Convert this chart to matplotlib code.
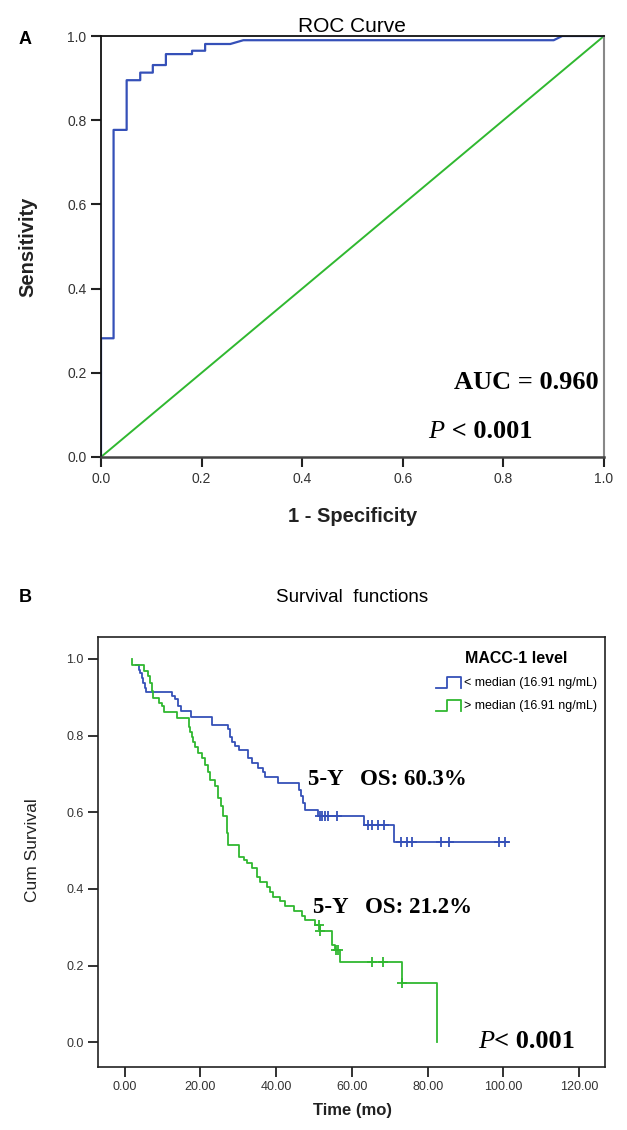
import numpy as np
import matplotlib
matplotlib.use('Agg')
import matplotlib.pyplot as plt
from matplotlib.lines import Line2D
from matplotlib.legend_handler import HandlerBase

plt.rcParams['font.family'] = ['Liberation Sans', 'DejaVu Sans']

# ROC curve (panel A)
roc_fpr = [0, 0, 0.025, 0.025, 0.051, 0.051, 0.078, 0.078, 0.103, 0.103, 0.129, 0.129,
           0.181, 0.181, 0.207, 0.207, 0.257, 0.283, 0.900, 0.917, 1.0]
roc_tpr = [0, 0.282, 0.282, 0.777, 0.777, 0.895, 0.895, 0.913, 0.913, 0.931, 0.931, 0.957,
           0.957, 0.965, 0.965, 0.981, 0.981, 0.990, 0.990, 1.0, 1.0]
ref_line = [0, 1]

# Kaplan-Meier (panel B): step start times and survival
low_t = [3.0, 3.9, 4.1, 4.6, 5.0, 5.4, 5.6, 12.5, 13.4, 14.0, 14.2, 14.9, 17.6, 23.2,
         27.4, 27.9, 28.3, 29.2, 30.1, 32.7, 33.6, 35.3, 36.6, 37.1, 40.6, 46.0, 46.6,
         47.0, 47.6, 51.0, 63.3, 71.0, 101.3]
low_s = [0.984, 0.971, 0.963, 0.950, 0.937, 0.924, 0.913, 0.902, 0.895, 0.884, 0.876,
         0.864, 0.847, 0.828, 0.817, 0.797, 0.784, 0.773, 0.763, 0.741, 0.728, 0.715,
         0.706, 0.693, 0.677, 0.659, 0.641, 0.623, 0.606, 0.590, 0.567, 0.521, 0.521]
low_cens = [51.5, 52.2, 52.9, 53.6, 56.0, 64.2, 65.3, 66.8, 68.6, 73.0, 74.5, 75.9,
            83.4, 85.5, 98.7, 100.4]

high_t = [1.9, 2.1, 5.2, 6.2, 6.8, 7.2, 7.6, 9.0, 9.8, 10.3, 13.9, 16.9, 17.3, 17.8,
          18.2, 18.6, 19.5, 20.4, 21.3, 22.1, 22.6, 23.9, 24.8, 25.4, 26.1, 27.0, 27.4,
          30.3, 31.4, 32.3, 33.6, 34.9, 35.8, 37.5, 38.4, 39.3, 41.1, 42.4, 44.6, 46.8,
          47.7, 50.3, 51.6, 54.8, 55.5, 56.9, 73.2, 82.4]
high_s = [1.0, 0.984, 0.967, 0.954, 0.937, 0.915, 0.897, 0.886, 0.876, 0.862, 0.845,
          0.823, 0.810, 0.797, 0.784, 0.771, 0.754, 0.741, 0.723, 0.706, 0.684, 0.667,
          0.637, 0.615, 0.589, 0.545, 0.515, 0.484, 0.476, 0.467, 0.454, 0.432, 0.419,
          0.406, 0.393, 0.380, 0.367, 0.354, 0.341, 0.328, 0.319, 0.306, 0.289, 0.254,
          0.241, 0.208, 0.154, 0.0]
high_cens = [51.2, 51.6, 55.8, 56.3, 65.2, 68.2, 73.3]

blue = '#3550b8'
green = '#30b830'


def surv_at(t, s, c):
    idx = np.searchsorted(t, c, side='right') - 1
    return np.array(s)[idx]


class StepHandler(HandlerBase):
    def create_artists(self, legend, orig_handle, xdescent, ydescent, width, height,
                       fontsize, trans):
        xs = [0, 0.45 * width, 0.45 * width, width, width]
        ys = [-0.2 * height, -0.2 * height, 1.1 * height, 1.1 * height, -0.2 * height]
        ln = Line2D(xs, ys, color=orig_handle.get_color(), lw=1.3, transform=trans)
        return [ln]


fig = plt.figure(figsize=(6.27, 11.3), dpi=100)

# ---------------- panel A
ax1 = fig.add_axes([101/627, 1-457/1130, 503/627, 421/1130])
ax1.plot(ref_line, ref_line, color=green, lw=1.4)
ax1.plot(roc_fpr, roc_tpr, color=blue, lw=1.6)
ax1.set_xlim(0, 1)
ax1.set_ylim(0, 1)
ax1.set_xticks(np.arange(0, 1.01, 0.2))
ax1.set_yticks(np.arange(0, 1.01, 0.2))
ax1.xaxis.set_major_formatter(plt.FormatStrFormatter('%.1f'))
ax1.yaxis.set_major_formatter(plt.FormatStrFormatter('%.1f'))
ax1.tick_params(direction='out', length=7, width=1.5, colors='#222222',
                labelsize=10, labelcolor='#333333')
for side in ['top', 'left']:
    ax1.spines[side].set_color('#111111')
    ax1.spines[side].set_linewidth(1.3)
ax1.spines['right'].set_color('#888888')
ax1.spines['right'].set_linewidth(1.5)
ax1.spines['bottom'].set_color('#444444')
ax1.spines['bottom'].set_linewidth(1.8)
ax1.set_xlabel('1 - Specificity', fontsize=14.5, fontweight='bold', color='#222222')
ax1.set_ylabel('Sensitivity', fontsize=14.5, fontweight='bold', color='#222222')
ax1.xaxis.set_label_coords(0.5, -0.1425)
ax1.xaxis.label.set_va('center')
ax1.yaxis.set_label_coords(-0.145, 0.5)
ax1.yaxis.label.set_va('center')
fig.text(352/627, 1-26/1130, 'ROC Curve', ha='center', va='center', fontsize=15)
fig.text(0.030, 1-40/1130, 'A', ha='left', va='center', fontsize=13, fontweight='bold')

ax1.text(0.99, 0.162, 'AUC = 0.960', ha='right', va='baseline', fontsize=19,
         fontweight='bold', family='Liberation Serif')
p1 = ax1.text(0.651, 0.044, 'P', ha='left', va='baseline', fontsize=19,
              style='italic', family='Liberation Serif')
ax1.annotate(' < 0.001', xy=(1, 0), xycoords=p1, ha='left', va='bottom', fontsize=19,
             fontweight='bold', family='Liberation Serif')

# ---------------- panel B
ax2 = fig.add_axes([98/627, 1-1066.7/1130, 507/627, 429.7/1130])
ax2.step(low_t, low_s, where='post', color=blue, lw=1.3)
ax2.step(high_t, high_s, where='post', color=green, lw=1.3)
ax2.plot(low_cens, surv_at(low_t, low_s, low_cens), '+', color=blue, ms=7, mew=1.3)
ax2.plot(high_cens, surv_at(high_t, high_s, high_cens), '+', color=green, ms=7, mew=1.3)
ax2.set_xlim(-7.0, 126.8)
ax2.set_ylim(-0.064, 1.057)
ax2.set_xticks(np.arange(0, 121, 20))
ax2.set_yticks(np.arange(0, 1.01, 0.2))
ax2.xaxis.set_major_formatter(plt.FormatStrFormatter('%.2f'))
ax2.yaxis.set_major_formatter(plt.FormatStrFormatter('%.1f'))
ax2.tick_params(direction='out', length=7, width=1.3, colors='#222222',
                labelsize=9, labelcolor='#333333')
for side in ax2.spines:
    ax2.spines[side].set_color('#222222')
    ax2.spines[side].set_linewidth(1.2)
ax2.set_xlabel('Time (mo)', fontsize=12, fontweight='bold', color='#222222')
ax2.set_ylabel('Cum Survival', fontsize=12.5, color='#222222')
ax2.xaxis.set_label_coords(0.501, -0.1008)
ax2.xaxis.label.set_va('center')
ax2.yaxis.set_label_coords(-0.13, 0.504)
ax2.yaxis.label.set_va('center')
fig.text(352/627, 1-597/1130, 'Survival  functions', ha='center', va='center', fontsize=13.5)
fig.text(0.030, 1-598/1130, 'B', ha='left', va='center', fontsize=13, fontweight='bold')

h_low = Line2D([], [], color=blue)
h_high = Line2D([], [], color=green)
leg = ax2.legend([h_low, h_high], ['< median (16.91 ng/mL)', '> median (16.91 ng/mL)'],
                 handler_map={Line2D: StepHandler()}, title='MACC-1 level',
                 loc='upper right', bbox_to_anchor=(1.0, 0.985), frameon=False,
                 fontsize=9, handlelength=2.0, handletextpad=0.3, labelspacing=0.9,
                 borderaxespad=0.2)
leg.get_title().set_fontweight('bold')
leg.get_title().set_fontsize(11.5)

ax2.text(48.4, 0.671, '5-Y   OS: 60.3%', ha='left', va='baseline', fontsize=16.5,
         fontweight='bold', family='Liberation Serif')
ax2.text(49.8, 0.337, '5-Y   OS: 21.2%', ha='left', va='baseline', fontsize=16.5,
         fontweight='bold', family='Liberation Serif')
p2 = ax2.text(93.3, -0.016, 'P', ha='left', va='baseline', fontsize=19,
              style='italic', family='Liberation Serif')
ax2.annotate('< 0.001', xy=(1, 0), xycoords=p2, ha='left', va='bottom', fontsize=19,
             fontweight='bold', family='Liberation Serif')

fig.savefig('out.png', dpi=100)
